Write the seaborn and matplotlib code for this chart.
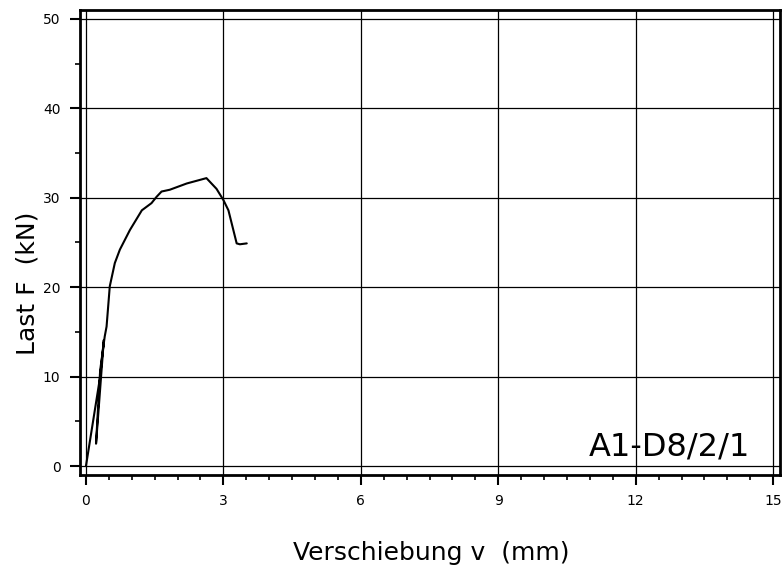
import matplotlib
matplotlib.use("Agg")
import matplotlib.pyplot as plt
from matplotlib.ticker import MultipleLocator
import seaborn as sns
import pandas as pd

# Data
verschiebung = [0.00, 0.31, 0.39, 0.22, 0.31, 0.41, 0.45, 0.52, 0.63, 0.74, 0.96,
                1.22, 1.43, 1.54, 1.65, 1.83, 2.20, 2.63, 2.85, 3.00, 3.11,
                3.29, 3.36, 3.51]
last = [0.0, 10.0, 14.1, 2.5, 10.7, 14.5, 15.6, 20.1, 22.7, 24.2, 26.4,
        28.6, 29.4, 30.1, 30.7, 30.9, 31.6, 32.2, 31.0, 29.75, 28.6,
        24.9, 24.8, 24.9]
x_ticks = [0, 3, 6, 9, 12, 15]
y_ticks = [0, 10, 20, 30, 40, 50]
specimen = "A1-D8/2/1"

df = pd.DataFrame({"v": verschiebung, "F": last, "order": range(len(last))})

sns.set_style("ticks")
plt.rcParams['font.family'] = ['DejaVu Sans']
plt.rcParams['text.color'] = 'black'

fig = plt.figure(figsize=(7.83, 5.74), dpi=100)
ax = fig.add_axes([80/783, 1-475/574, 700/783, 465/574])

ax.set_xlim(-0.13, 15.15)
ax.set_ylim(-1.0, 51.0)
ax.set_xticks(x_ticks)
ax.set_yticks(y_ticks)
ax.xaxis.set_minor_locator(MultipleLocator(0.5))
ax.yaxis.set_minor_locator(MultipleLocator(5))
ax.grid(True, which="major", color="black", linewidth=0.9)
ax.set_axisbelow(True)

sns.lineplot(data=df, x="v", y="F", sort=False, estimator=None,
             color="black", linewidth=1.5, ax=ax)

for s in ax.spines.values():
    s.set_linewidth(2.0)
    s.set_color("black")

ax.tick_params(which="major", direction="out", length=7, width=1.5,
               labelsize=10, pad=7, colors="black")
ax.tick_params(which="minor", direction="out", length=3.5, width=1.2, colors="black")
ax.set_xlabel("")
ax.set_ylabel("")

fig.text(431/783, 1-553/574, "Verschiebung v  (mm)", ha="center", va="center",
         fontsize=18, color="black")
fig.text(28/783, 1-283/574, "Last F  (kN)", ha="center", va="center",
         rotation=90, fontsize=18, color="black")

ax.text(0.957, 0.043, specimen, transform=ax.transAxes, ha="right",
        va="baseline", fontsize=23, color="black")

fig.savefig("out.png", dpi=100)
